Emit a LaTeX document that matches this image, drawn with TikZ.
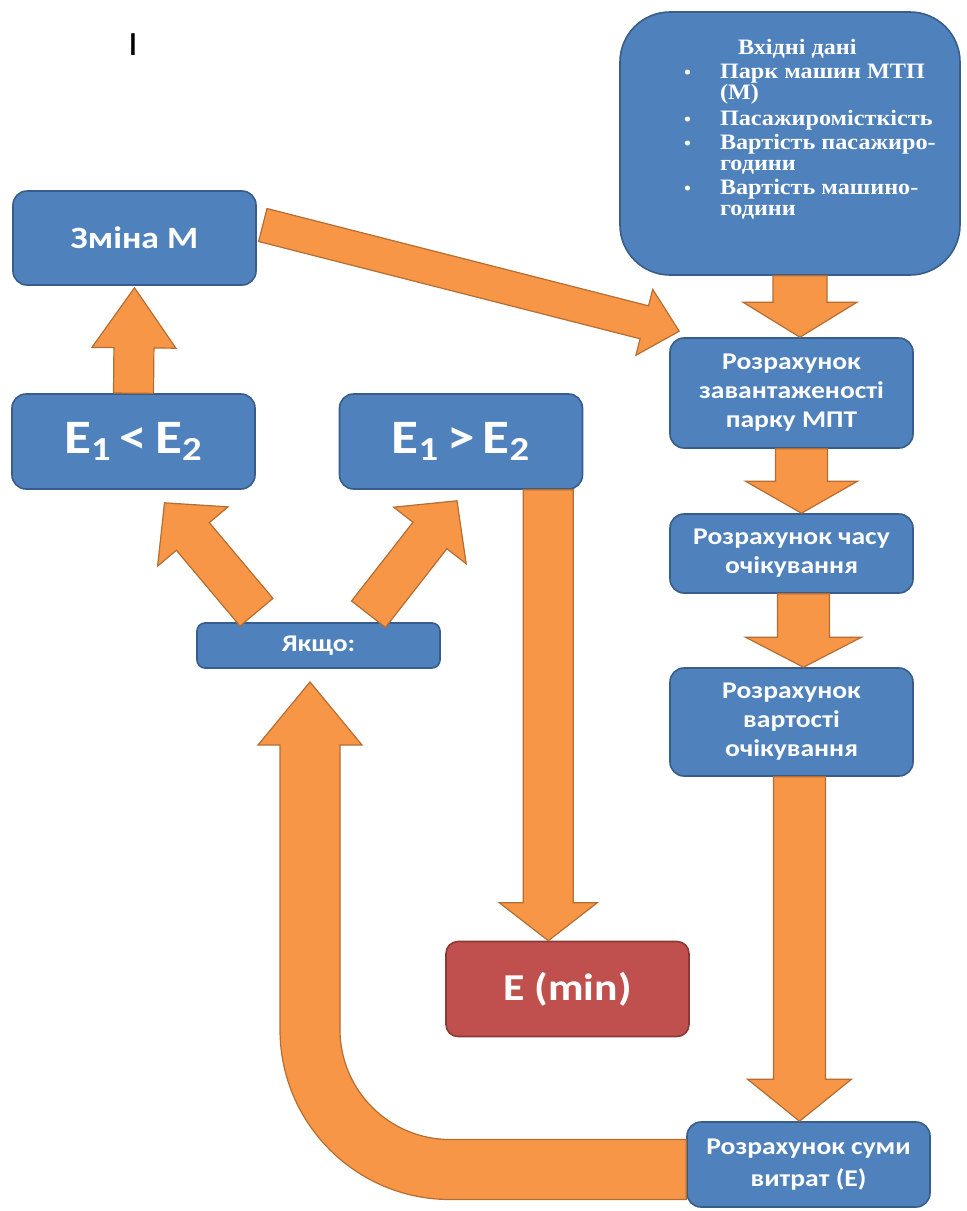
\documentclass[tikz,border=0pt]{standalone}
\usepackage{fontspec}
\setmainfont[FakeStretch=1.1]{Liberation Serif}
\setsansfont[FakeStretch=1.15]{Carlito}
\usetikzlibrary{calc}
\definecolor{boxblue}{HTML}{4F81BD}
\definecolor{boxline}{HTML}{385D8A}
\definecolor{endred}{HTML}{C0504D}
\definecolor{endline}{HTML}{8C3836}
\definecolor{arrfill}{HTML}{F79646}
\definecolor{arrline}{HTML}{B66D31}
\tikzset{
  blk/.style={draw=boxline, fill=boxblue, line width=0.8pt, rounded corners=7pt, text=white,
    align=center, inner sep=0pt, minimum width=121.5pt},
  txt/.style={font=\sffamily\bfseries\fontsize{12}{14.5}\selectfont},
  big/.style={font=\sffamily\bfseries\fontsize{24}{26}\selectfont},
  barrow/.style={draw=arrline, fill=arrfill, line width=0.6pt, line join=miter}
}
\newcommand{\barr}[5]{%
  \coordinate (bh) at ($(#2)!#5!(#1)$);
  \draw[barrow] ($(#1)!#3!90:(#2)$) -- ($(bh)!#3!90:(#2)$) -- ($(bh)!#4!90:(#2)$) -- (#2)
    -- ($(bh)!#4!-90:(#2)$) -- ($(bh)!#3!-90:(#2)$) -- ($(#1)!#3!-90:(#2)$) -- cycle;}
\newcommand{\inpitem}[1]{\par\vspace{1.8pt}\hspace*{32pt}\makebox[18pt][l]{\fontsize{9}{9}\selectfont•}\parbox[t]{115pt}{\raggedright#1}}
\begin{document}
\begin{tikzpicture}[x=0.5pt, y=-0.5pt]
\useasboundingbox (0,0) rectangle (967,1211);
\node[font=\sffamily\fontsize{17}{17}\selectfont] (mark) at (133,45) {I};
\node[blk, rounded corners=25pt, minimum width=170pt, minimum height=131.5pt, font=\rmfamily\bfseries] (inp) at (790,143.5)
  {\parbox[c][131.5pt][t]{170pt}{\fontsize{11}{10.4}\selectfont\parindent=0pt\raggedright
   \vspace*{13.5pt}\hspace*{59pt}Вхідні дані
   \inpitem{Парк машин МТП\\(М)}
   \inpitem{Пасажиромісткість}
   \inpitem{Вартість пасажиро-\\години}
   \inpitem{Вартість машино-\\години}}};
\node[blk, txt, minimum height=55pt] (zav) at (791.5,393) {Розрахунок\\завантаженості\\парку МПТ};
\node[blk, txt, minimum height=39.5pt] (chas) at (791.5,553.5) {Розрахунок часу\\очікування};
\node[blk, txt, minimum height=54pt] (vart) at (791.5,722) {Розрахунок\\вартості\\очікування};
\node[blk, font=\sffamily\bfseries\fontsize{12}{16}\selectfont, minimum height=42.5pt] (sumy) at (808.5,1164.5) {Розрахунок суми\\витрат (Е)};
\node[blk, font=\sffamily\bfseries\fontsize{15.5}{17}\selectfont, minimum height=47pt] (zmina) at (134.5,238) {Зміна М};
\node[blk, big, minimum height=47.5pt] (lt) at (133.5,441.5) {E\textsubscript{1}\,<\,E\textsubscript{2}};
\node[blk, big, minimum height=47.5pt] (gt) at (461,441.5) {E\textsubscript{1}\,>\,E\textsubscript{2}};
\node[blk, txt, rounded corners=4pt, minimum height=22.5pt] (yak) at (318.5,645.5) {Якщо:};
\node[blk, draw=endline, fill=endred, rounded corners=6pt, font=\sffamily\bfseries\fontsize{19}{21}\selectfont, minimum height=47.5pt] (emin) at (567.5,989) {E (min)};
\coordinate (a1s) at ($(inp.south)+(10,0)$);
\coordinate (a1e) at (a1s |- zav.north);
\coordinate (a2s) at ($(zav.south)+(10,0)$);
\coordinate (a2e) at (a2s |- chas.north);
\coordinate (a3s) at ($(chas.south)+(12,0)$);
\coordinate (a3e) at (a3s |- vart.north);
\coordinate (a4s) at ($(vart.south)+(8,0)$);
\coordinate (a4e) at (a4s |- sumy.north);
\coordinate (a5s) at ($(zmina.east)+(6,-13)$);
\coordinate (a5e) at ($(zav.north west)+(10,-6)$);
\coordinate (a6s) at (lt.north);
\coordinate (a6e) at ($(zmina.south)+(0,2)$);
\coordinate (a7s) at ($(yak.north)+(-62,-10)$);
\coordinate (a7e) at ($(lt.south)+(31,13)$);
\coordinate (a8s) at ($(yak.north)+(50,-8)$);
\coordinate (a8e) at ($(gt.south)+(-4,11)$);
\coordinate (a9s) at ($(gt.south east)+(-35,0)$);
\coordinate (a9e) at (a9s |- emin.north);
\barr{a1s}{a1e}{13.5pt}{28.5pt}{17.5pt}
\barr{a2s}{a2e}{13pt}{28pt}{16pt}
\barr{a3s}{a3e}{13pt}{29pt}{15pt}
\barr{a4s}{a4e}{13pt}{26pt}{21pt}
\barr{a5s}{a5e}{8.5pt}{17pt}{18pt}
\barr{a6s}{a6e}{10pt}{21pt}{30pt}
\barr{a7s}{a7e}{10.75pt}{23pt}{22pt}
\barr{a8s}{a8e}{10.75pt}{23pt}{22pt}
\barr{a9s}{a9e}{12.5pt}{24.5pt}{19pt}
\draw[barrow] ($(sumy.west)+(0,-25)$) -- (450,1139.5) arc[start angle=270, end angle=180, radius=55pt]
  -- (340,745) -- (362,745) -- (310,682) -- (258,745) -- (280,745) -- (280,1029.5)
  arc[start angle=180, end angle=270, radius=85pt] -- ($(sumy.west)+(0,35)$) -- cycle;
\end{tikzpicture}
\end{document}
